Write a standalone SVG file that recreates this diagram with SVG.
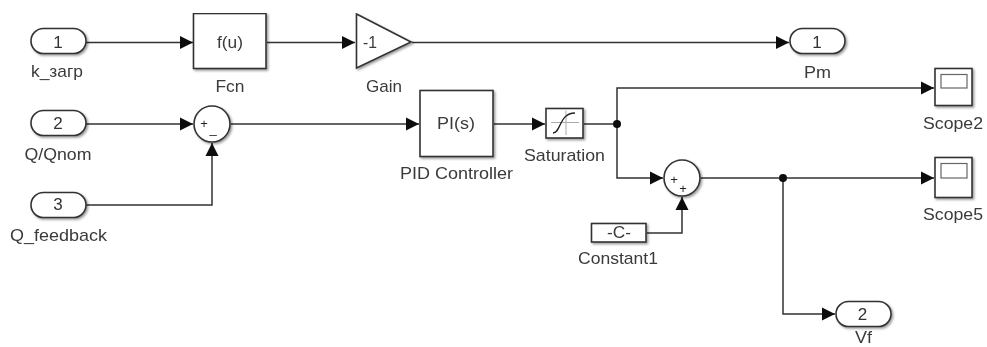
<svg xmlns="http://www.w3.org/2000/svg" width="987" height="347" viewBox="0 0 987 347">
<style>
text{font-family:"Liberation Sans",Arial,sans-serif;font-size:17px;fill:#3a3a3a;text-anchor:middle}
.b{fill:#fff;stroke:#333;stroke-width:1.6;filter:url(#s)}
.w{fill:none;stroke:#333;stroke-width:1.5}
.t{fill:none;stroke:#666;stroke-width:1.2}
.x{fill:none;stroke:#aaa;stroke-width:1}
text.i{font-size:17px;fill:#333}
text.p{font-size:13px;fill:#222}
</style>
<defs>
<filter id="s" x="-20%" y="-20%" width="150%" height="150%"><feDropShadow dx="1.5" dy="1.5" stdDeviation="1.2" flood-color="#000" flood-opacity="0.4"/></filter>
<filter id="soft" x="0" y="0" width="100%" height="100%"><feGaussianBlur stdDeviation="0.45"/></filter>
<marker id="a" markerUnits="userSpaceOnUse" markerWidth="14" markerHeight="14" refX="13" refY="7" orient="auto"><path d="M0,0.5L13,7L0,13.500Z" fill="#111"/></marker>
</defs>
<rect width="987" height="347" fill="#fff"/>
<g filter="url(#soft)">
<g id="connectors">
<path class="w" marker-end="url(#a)" d="M86,42.500H193"/>
<path class="w" marker-end="url(#a)" d="M267,42.500H355"/>
<path class="w" marker-end="url(#a)" d="M412,42.500H789"/>
<path class="w" marker-end="url(#a)" d="M86,124H193"/>
<path class="w" marker-end="url(#a)" d="M86,205H212V143"/>
<path class="w" marker-end="url(#a)" d="M231,124H419"/>
<path class="w" marker-end="url(#a)" d="M494,124H545"/>
<path class="w" d="M584,124H617"/>
<path class="w" marker-end="url(#a)" d="M617,124V88H934"/>
<path class="w" marker-end="url(#a)" d="M617,124V178H663"/>
<path class="w" marker-end="url(#a)" d="M647,233H682V197"/>
<path class="w" marker-end="url(#a)" d="M701,178H934"/>
<path class="w" marker-end="url(#a)" d="M783,178V314H835"/>
<circle cx="617" cy="124" r="4" fill="#111"/>
<circle cx="783" cy="178" r="4" fill="#111"/>
</g>
<g id="in1"><rect class="b" x="31" y="28.500" width="55" height="25" rx="12.500"/><text class="i" x="58" y="48">1</text><text x="57" y="77" textLength="52" lengthAdjust="spacingAndGlyphs">k_загр</text></g>
<g id="in2"><rect class="b" x="31" y="110.500" width="55" height="25" rx="12.500"/><text class="i" x="58" y="129">2</text><text x="58" y="160" textLength="67" lengthAdjust="spacingAndGlyphs">Q/Qnom</text></g>
<g id="in3"><rect class="b" x="31" y="192.500" width="55" height="25" rx="12.500"/><text class="i" x="58" y="210">3</text><text x="58.500" y="241" textLength="97" lengthAdjust="spacingAndGlyphs">Q_feedback</text></g>
<g id="fcn"><rect class="b" x="193.500" y="13.500" width="72.500" height="55"/><text x="230" y="48" textLength="26" lengthAdjust="spacingAndGlyphs">f(u)</text><text x="230" y="92" textLength="29" lengthAdjust="spacingAndGlyphs">Fcn</text></g>
<g id="gain"><path class="b" d="M356.500,14L411,42L356.500,68Z"/><text x="370" y="48" textLength="14" lengthAdjust="spacingAndGlyphs">-1</text><text x="384" y="92" textLength="36" lengthAdjust="spacingAndGlyphs">Gain</text></g>
<g id="sum1"><circle class="b" cx="212" cy="124" r="18"/><text class="p" x="204" y="128">+</text><text class="p" x="213" y="133">_</text></g>
<g id="pid"><rect class="b" x="420" y="90.500" width="73" height="66"/><text x="456" y="129" textLength="38" lengthAdjust="spacingAndGlyphs">PI(s)</text><text x="456.500" y="179" textLength="113" lengthAdjust="spacingAndGlyphs">PID Controller</text></g>
<g id="saturation"><rect class="b" x="546" y="108.500" width="37" height="29.500"/><path class="x" d="M551,122.500H579M566,110.500V135"/><path fill="none" stroke="#222" stroke-width="1.400" d="M553,133C561,133 559,113 575,113"/><text x="564.500" y="161" textLength="81" lengthAdjust="spacingAndGlyphs">Saturation</text></g>
<g id="sum2"><circle class="b" cx="682" cy="178" r="18"/><text class="p" x="674" y="183.500">+</text><text class="p" x="683" y="192.500">+</text></g>
<g id="constant"><rect class="b" x="591.500" y="223.500" width="54.500" height="18.500"/><text x="619" y="238" textLength="24" lengthAdjust="spacingAndGlyphs">-C-</text><text x="618" y="264" textLength="80" lengthAdjust="spacingAndGlyphs">Constant1</text></g>
<g id="out1"><rect class="b" x="790" y="28.500" width="55" height="25" rx="12.500"/><text class="i" x="817" y="47.500">1</text><text x="817.500" y="78" textLength="27" lengthAdjust="spacingAndGlyphs">Pm</text></g>
<g id="scope2"><rect class="b" x="935" y="68.500" width="37" height="37"/><rect class="t" x="941" y="74.500" width="26" height="13.500"/><text x="953" y="129" textLength="60" lengthAdjust="spacingAndGlyphs">Scope2</text></g>
<g id="scope5"><rect class="b" x="935" y="157.500" width="37" height="40"/><rect class="t" x="941" y="163.500" width="26" height="14.500"/><text x="953" y="220" textLength="60" lengthAdjust="spacingAndGlyphs">Scope5</text></g>
<g id="out2"><rect class="b" x="836" y="301.500" width="55" height="25" rx="12.500"/><text class="i" x="862.500" y="320">2</text><text x="863.500" y="343" textLength="17" lengthAdjust="spacingAndGlyphs">Vf</text></g>
</g>
</svg>
